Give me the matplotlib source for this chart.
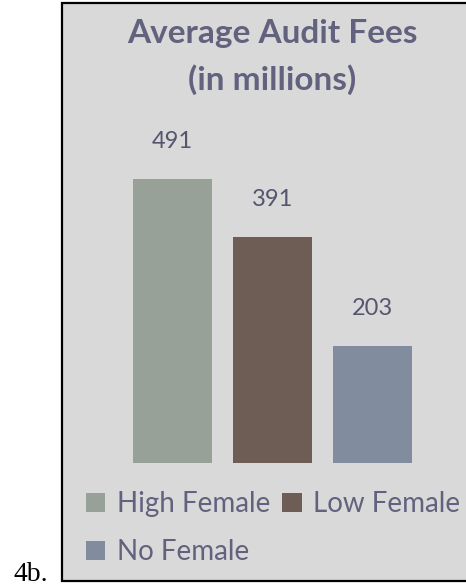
import matplotlib
matplotlib.use("Agg")
import matplotlib.pyplot as plt
from matplotlib.patches import Rectangle

# ── Data ────────────────────────────────────────────────────────────────────
groups = ["High Female", "Low Female", "No Female"]
fees   = [491, 391, 203]
colors = ["#97a198", "#6e5d55", "#818d9e"]

W, H = 466, 586
fig = plt.figure(figsize=(W / 100, H / 100), dpi=100)
fig.patch.set_facecolor("white")

def px(x0, y0, x1, y1):
    """pixel box (top-left origin) -> figure fraction rect"""
    return [x0 / W, 1 - y1 / H, (x1 - x0) / W, (y1 - y0) / H]

# grey chart panel with a black frame (right side runs off the page)
panel = Rectangle((62 / W, 1 - 581 / H), 1.0, (581 - 3) / H,
                  transform=fig.transFigure, facecolor="#d9d9d9",
                  edgecolor="black", linewidth=1.6, zorder=-1)
fig.patches.append(panel)

TXT = "#62627f"

fig.text(272 / W, 1 - 33 / H, "Average Audit Fees", ha="center", va="center",
         fontsize=24, fontweight="bold", color=TXT, family="Lato")
fig.text(272 / W, 1 - 80 / H, "(in millions)", ha="center", va="center",
         fontsize=24, fontweight="bold", color=TXT, family="Lato")

ax = fig.add_axes(px(122, 174, 423, 463))
ax.set_facecolor("none")
bars = ax.bar(range(len(fees)), fees, width=0.79, color=colors)
ax.set_xlim(-0.5, 2.5)
ax.set_ylim(0, 500)
ax.axis("off")

for i, v in enumerate(fees):
    ax.annotate(f"{v}", xy=(i, v), xytext=(0, 27), textcoords="offset points",
                ha="center", va="center", fontsize=17, color="#55556e",
                family="Lato")

# legend laid out row-wise: High, Low / No
order = [0, 2, 1]
leg = fig.legend([bars[i] for i in order], [groups[i] for i in order],
                 ncol=2, loc="upper left", bbox_to_anchor=(86 / W, 1 - 491 / H),
                 frameon=False, handlelength=0.7, handleheight=0.7,
                 handletextpad=0.4, columnspacing=0.45, labelspacing=0.79,
                 borderpad=0, borderaxespad=0,
                 prop={"family": "Lato", "size": 20})
for t in leg.get_texts():
    t.set_color(TXT)

fig.text(13 / W, 1 - 581 / H, "4b.", ha="left", va="baseline",
         fontsize=20, color="black", family="Liberation Serif")

fig.savefig("out.png", dpi=100)
